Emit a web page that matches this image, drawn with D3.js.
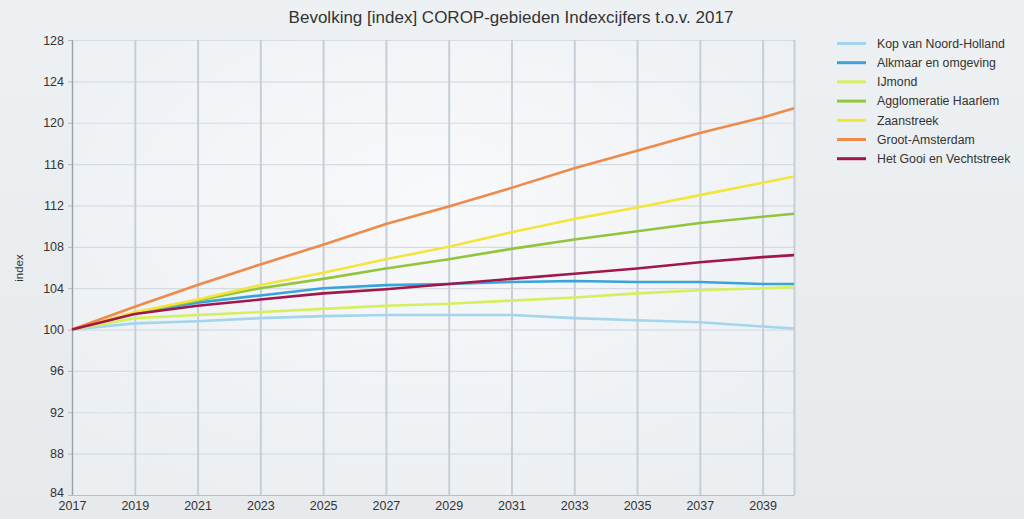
<!DOCTYPE html>
<html><head><meta charset="utf-8">
<script src="https://cdn.jsdelivr.net/npm/d3@7"></script>
<style>
html,body{margin:0;padding:0;background:#e9edf0;}
svg{display:block;font-family:"Liberation Sans",Arial,sans-serif;}
</style></head>
<body><svg id="c" width="1024" height="519"></svg>
<script>
const title = "Bevolking [index] COROP-gebieden Indexcijfers t.o.v. 2017";
const yLabel = "index";
const years = [2017,2019,2021,2023,2025,2027,2029,2031,2033,2035,2037,2039,2040];
const xTicks = [2017,2019,2021,2023,2025,2027,2029,2031,2033,2035,2037,2039];
const yTicks = [84,88,92,96,100,104,108,112,116,120,124,128];
const seriesNames = ["Kop van Noord-Holland","Alkmaar en omgeving","IJmond","Agglomeratie Haarlem","Zaanstreek","Groot-Amsterdam","Het Gooi en Vechtstreek"];
const seriesColors = ["#a3d5ec","#3ba3db","#d6ef5c","#92c43c","#f3e53c","#ee8a4a","#a1164b"];
const kopVanNoordHolland = [100,100.6,100.8,101.1,101.3,101.4,101.4,101.4,101.1,100.9,100.7,100.3,100.1];
const alkmaarEnOmgeving  = [100,101.6,102.6,103.3,104.0,104.3,104.4,104.6,104.7,104.6,104.6,104.4,104.4];
const ijmond             = [100,101.1,101.4,101.7,102.0,102.3,102.5,102.8,103.1,103.5,103.8,104.0,104.1];
const agglomeratieHaarlem= [100,101.6,102.8,104.0,104.9,105.9,106.8,107.8,108.7,109.5,110.3,110.9,111.2];
const zaanstreek         = [100,101.7,102.9,104.3,105.5,106.8,108.0,109.4,110.7,111.8,113.0,114.2,114.8];
const grootAmsterdam     = [100,102.2,104.3,106.3,108.2,110.2,111.9,113.7,115.6,117.3,119.0,120.5,121.4];
const hetGooi            = [100,101.5,102.3,102.9,103.5,103.9,104.4,104.9,105.4,105.9,106.5,107.0,107.2];
const seriesValues = [kopVanNoordHolland,alkmaarEnOmgeving,ijmond,agglomeratieHaarlem,zaanstreek,grootAmsterdam,hetGooi];

const svg = d3.select("#c");
const W=1024,H=519;
const L=72,R=794,T=40,B=495;

const defs = svg.append("defs");
const bg = defs.append("linearGradient").attr("id","bg").attr("x1",0).attr("y1",0).attr("x2",0).attr("y2",1);
bg.append("stop").attr("offset",0).attr("stop-color","#eef1f3");
bg.append("stop").attr("offset",1).attr("stop-color","#e6eaed");
svg.append("rect").attr("width",W).attr("height",H).attr("fill","url(#bg)");
const pg = defs.append("radialGradient").attr("id","pg").attr("cx","0.5").attr("cy","0.35").attr("r","0.75");
pg.append("stop").attr("offset",0).attr("stop-color","#f8f9fb");
pg.append("stop").attr("offset",1).attr("stop-color","#ebeff2");

const x = d3.scaleLinear().domain([2017,2040]).range([L,R]);
const y = d3.scaleLinear().domain([84,128]).range([B,T]);

svg.append("rect").attr("x",L).attr("y",T).attr("width",R-L).attr("height",B-T).attr("fill","url(#pg)");

// horizontal grid
svg.append("g").attr("transform",`translate(${L},0)`)
  .call(d3.axisLeft(y).tickValues(yTicks).tickSize(-(R-L)).tickFormat(""))
  .call(g=>{g.select(".domain").remove();g.selectAll("line").attr("stroke","#d6dce1").attr("stroke-width",1.2);});
// vertical grid
svg.append("g").attr("transform",`translate(0,${B})`)
  .call(d3.axisBottom(x).tickValues(xTicks.concat([2040])).tickSize(-(B-T)).tickFormat(""))
  .call(g=>{g.select(".domain").remove();g.selectAll("line").attr("stroke","#c6cfd7").attr("stroke-width",2);});

// axes
const ya = svg.append("g").attr("transform",`translate(${L},0)`)
  .call(d3.axisLeft(y).tickValues(yTicks).tickSize(4).tickPadding(4).tickFormat(d3.format("d")));
ya.select(".domain").attr("stroke","#9aa3ab");
ya.selectAll("line").attr("stroke","#b0b8bf");
ya.selectAll("text").attr("font-size",12.5).attr("fill","#333").attr("font-family","Liberation Sans, Arial, sans-serif");
ya.selectAll(".tick").filter(d=>d===84).select("text").attr("dy","0.1em");

const xa = svg.append("g").attr("transform",`translate(0,${B})`)
  .call(d3.axisBottom(x).tickValues(xTicks).tickSize(0).tickPadding(6).tickFormat(d3.format("d")));
xa.select(".domain").attr("stroke","#b8c0c7");
xa.selectAll("text").attr("font-size",12.5).attr("fill","#333").attr("font-family","Liberation Sans, Arial, sans-serif");

// lines
const line = d3.line().x((d,i)=>x(years[i])).y(d=>y(d));
seriesValues.forEach((vals,k)=>{
  svg.append("path").datum(vals).attr("d",line).attr("fill","none")
    .attr("stroke",seriesColors[k]).attr("stroke-width",2.6).attr("stroke-linejoin","round");
});

// title
svg.append("text").attr("x",511).attr("y",23).attr("text-anchor","middle")
  .attr("font-size",17).attr("fill","#333").text(title);
// y label
svg.append("text").attr("transform","translate(23,268) rotate(-90)").attr("text-anchor","middle")
  .attr("font-size",11.5).attr("fill","#333").text(yLabel);

// legend
const lg = svg.append("g");
seriesNames.forEach((n,i)=>{
  const yy = 43.5 + i*19.2;
  lg.append("line").attr("x1",837).attr("x2",866).attr("y1",yy).attr("y2",yy)
    .attr("stroke",seriesColors[i]).attr("stroke-width",3);
  lg.append("text").attr("x",877).attr("y",yy+4.3).attr("font-size",12.3).attr("fill","#333").text(n);
});
</script></body></html>
